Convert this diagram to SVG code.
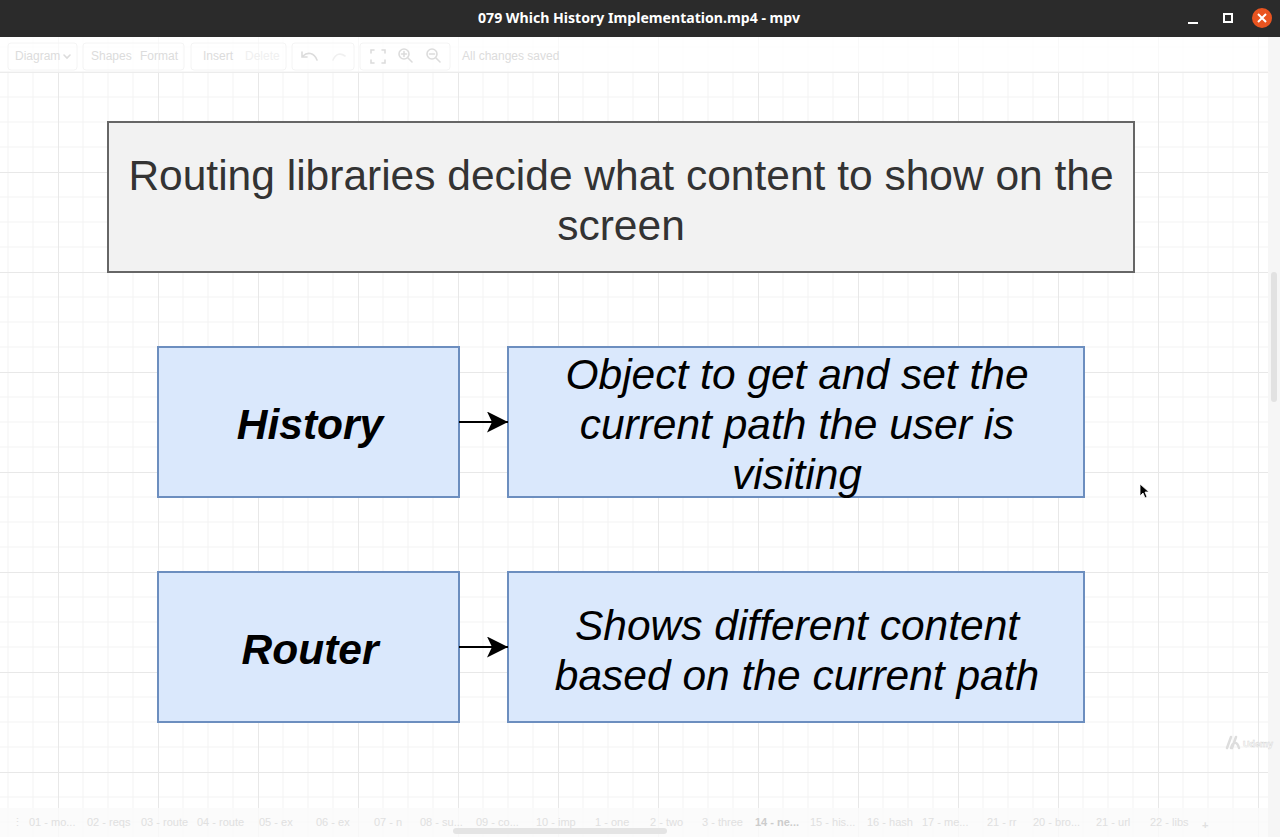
<svg xmlns="http://www.w3.org/2000/svg" width="1280" height="837" viewBox="0 0 1280 837">
  <defs>
    <pattern id="grid" patternUnits="userSpaceOnUse" x="58" y="72" width="100" height="100">
      <rect width="100" height="100" fill="#ffffff"/>
      <path d="M25 0V100M50 0V100M75 0V100M0 25H100M0 50H100M0 75H100" stroke="#f3f3f3" stroke-width="1" fill="none"/>
      <path d="M0.5 0V100M0 0.5H100" stroke="#e8e8e8" stroke-width="1" fill="none"/>
    </pattern>
    <marker id="arrow" viewBox="0 0 21 21" refX="21" refY="10.5" markerWidth="21" markerHeight="21" markerUnits="userSpaceOnUse" orient="auto">
      <path d="M0 0 L21 10.5 L0 21 L5 10.5 Z" fill="#000000"/>
    </marker>
    <style>
      .title-box { fill: #f2f2f2; stroke: #666666; stroke-width: 2; }
      .blue-box { fill: #dae8fc; stroke: #6c8ebf; stroke-width: 2; }
      .big { font-family: "Liberation Sans", Arial, sans-serif; font-size: 42.5px; text-anchor: middle; }
      .title-text { fill: #333333; }
      .label { fill: #000000; font-weight: bold; font-style: italic; }
      .desc { fill: #000000; font-style: italic; }
      .conn { stroke: #000000; stroke-width: 2; fill: none; marker-end: url(#arrow); }
      .ui { font-family: "Liberation Sans", Arial, sans-serif; font-size: 12px; fill: #dcdcdc; }
      .tab { font-family: "Liberation Sans", Arial, sans-serif; font-size: 11px; fill: #e0e0e0; }
      .ui-group { fill: none; stroke: #f4f4f4; stroke-width: 1; }
      .ui-icon { fill: none; stroke: #dcdcdc; stroke-width: 1.6; stroke-linecap: round; }
    </style>
  </defs>

  <!-- canvas -->
  <rect x="0" y="0" width="1280" height="837" fill="url(#grid)"/>

  <!-- window title bar -->
  <rect x="0" y="0" width="1280" height="37" fill="#2b2b2b"/>
  <text x="478" y="23" font-family="Noto Sans, DejaVu Sans, sans-serif" font-size="14" font-weight="bold" fill="#ffffff" textLength="322" lengthAdjust="spacingAndGlyphs">079 Which History Implementation.mp4 - mpv</text>
  <line x1="1188" y1="23" x2="1198" y2="23" stroke="#ffffff" stroke-width="2"/>
  <rect x="1224" y="14" width="8" height="8" fill="none" stroke="#ffffff" stroke-width="2"/>
  <circle cx="1262" cy="18" r="10" fill="#e95420"/>
  <path d="M1258 14 L1266 22 M1266 14 L1258 22" stroke="#ffffff" stroke-width="2"/>

  <!-- faded toolbar -->
  <g id="toolbar">
    <rect x="0" y="37" width="1268" height="35" fill="#ffffff" opacity="0.75"/>
    <line x1="0" y1="72" x2="1268" y2="72" stroke="#f0f0f0"/>
    <rect class="ui-group" x="8" y="43" width="69" height="27" rx="3"/>
    <rect class="ui-group" x="83" y="43" width="101" height="27" rx="3"/>
    <rect class="ui-group" x="191" y="43" width="95" height="27" rx="3"/>
    <rect class="ui-group" x="292" y="43" width="62" height="27" rx="3"/>
    <rect class="ui-group" x="360" y="43" width="90" height="27" rx="3"/>
    <text class="ui" x="15" y="60">Diagram</text>
    <path class="ui-icon" d="M64 55 L67 58 L70 55" stroke-width="1"/>
    <text class="ui" x="91" y="60">Shapes</text>
    <text class="ui" x="140" y="60">Format</text>
    <text class="ui" x="203" y="60">Insert</text>
    <text class="ui" x="245" y="60" style="fill:#f0f0f0">Delete</text>
    <path class="ui-icon" d="M317 60 C314 52 307 52 303 56 M302 52 L302 57 L307 57"/>
    <path class="ui-icon" d="M333 60 C336 53 341 53 345 56" style="stroke:#f0f0f0"/>
    <path class="ui-icon" d="M371 53 V50 H374 M382 50 H385 V53 M385 60 V63 H382 M374 63 H371 V60"/>
    <circle class="ui-icon" cx="404" cy="54" r="5"/>
    <path class="ui-icon" d="M408 58 L412 62 M401.5 54 H406.5 M404 51.5 V56.5"/>
    <circle class="ui-icon" cx="432" cy="54" r="5"/>
    <path class="ui-icon" d="M436 58 L440 62 M429.5 54 H434.5"/>
    <text class="ui" x="462" y="60">All changes saved</text>
  </g>

  <!-- nodes -->
  <g id="title">
    <rect class="title-box" x="108" y="122" width="1026" height="150"/>
    <text class="big title-text" x="621" y="190">Routing libraries decide what content to show on the</text>
    <text class="big title-text" x="621" y="240">screen</text>
  </g>

  <g id="history">
    <rect class="blue-box" x="158" y="347" width="301" height="150"/>
    <text class="big label" x="310" y="439">History</text>
  </g>

  <g id="history-desc">
    <rect class="blue-box" x="508" y="347" width="576" height="150"/>
    <text class="big desc" x="797" y="389">Object to get and set the</text>
    <text class="big desc" x="797" y="439">current path the user is</text>
    <text class="big desc" x="797" y="489">visiting</text>
  </g>

  <g id="router">
    <rect class="blue-box" x="158" y="572" width="301" height="150"/>
    <text class="big label" x="310" y="664">Router</text>
  </g>

  <g id="router-desc">
    <rect class="blue-box" x="508" y="572" width="576" height="150"/>
    <text class="big desc" x="797" y="640">Shows different content</text>
    <text class="big desc" x="797" y="690">based on the current path</text>
  </g>

  <!-- connectors -->
  <g id="connectors">
    <path class="conn" d="M459 422 L508 422"/>
    <path class="conn" d="M459 647 L508 647"/>
  </g>

  <!-- mouse cursor -->
  <path d="M1140 484 L1140 496 L1143 493 L1145 498 L1147 497 L1145 492 L1149 492 Z" fill="#000000" stroke="#ffffff" stroke-width="0.8"/>

  <!-- vertical scrollbar -->
  <rect x="1268" y="37" width="12" height="800" fill="#f6f6f6"/>
  <rect x="1271" y="272" width="6" height="130" rx="3" fill="#e2e2e2"/>

  <!-- watermark -->
  <g id="watermark">
    <path d="M1227 748 L1231 737 M1232 748 L1236 737 M1231 748 C1233 741 1237 741 1239 748" stroke="#dddddd" stroke-width="2.5" fill="none" stroke-linecap="round"/>
    <text x="1243" y="747" font-family="Liberation Sans, Arial, sans-serif" font-size="9" font-weight="bold" fill="#ffffff" stroke="#d8d8d8" stroke-width="0.5">Udemy</text>
  </g>

  <!-- bottom tab bar -->
  <g id="tabs">
    <rect x="0" y="808" width="1268" height="29" fill="#fafafa" opacity="0.8"/>
    <text class="tab" x="12" y="826">⋮</text>
    <text class="tab" x="29" y="826">01 - mo...</text>
    <text class="tab" x="87" y="826">02 - reqs</text>
    <text class="tab" x="141" y="826">03 - route</text>
    <text class="tab" x="197" y="826">04 - route</text>
    <text class="tab" x="259" y="826">05 - ex</text>
    <text class="tab" x="316" y="826">06 - ex</text>
    <text class="tab" x="374" y="826">07 - n</text>
    <text class="tab" x="420" y="826">08 - su...</text>
    <text class="tab" x="476" y="826">09 - co...</text>
    <text class="tab" x="536" y="826">10 - imp</text>
    <text class="tab" x="595" y="826">1 - one</text>
    <text class="tab" x="650" y="826">2 - two</text>
    <text class="tab" x="702" y="826">3 - three</text>
    <text class="tab" x="755" y="826" font-weight="bold" style="fill:#cccccc">14 - ne...</text>
    <text class="tab" x="810" y="826">15 - his...</text>
    <text class="tab" x="867" y="826">16 - hash</text>
    <text class="tab" x="922" y="826">17 - me...</text>
    <text class="tab" x="987" y="826">21 - rr</text>
    <text class="tab" x="1033" y="826">20 - bro...</text>
    <text class="tab" x="1096" y="826">21 - url</text>
    <text class="tab" x="1150" y="826">22 - libs</text>
    <text class="tab" x="1202" y="829" font-size="22" font-weight="bold">+</text>
    <rect x="453" y="828" width="214" height="6" rx="3" fill="#e4e4e4"/>
  </g>
</svg>
